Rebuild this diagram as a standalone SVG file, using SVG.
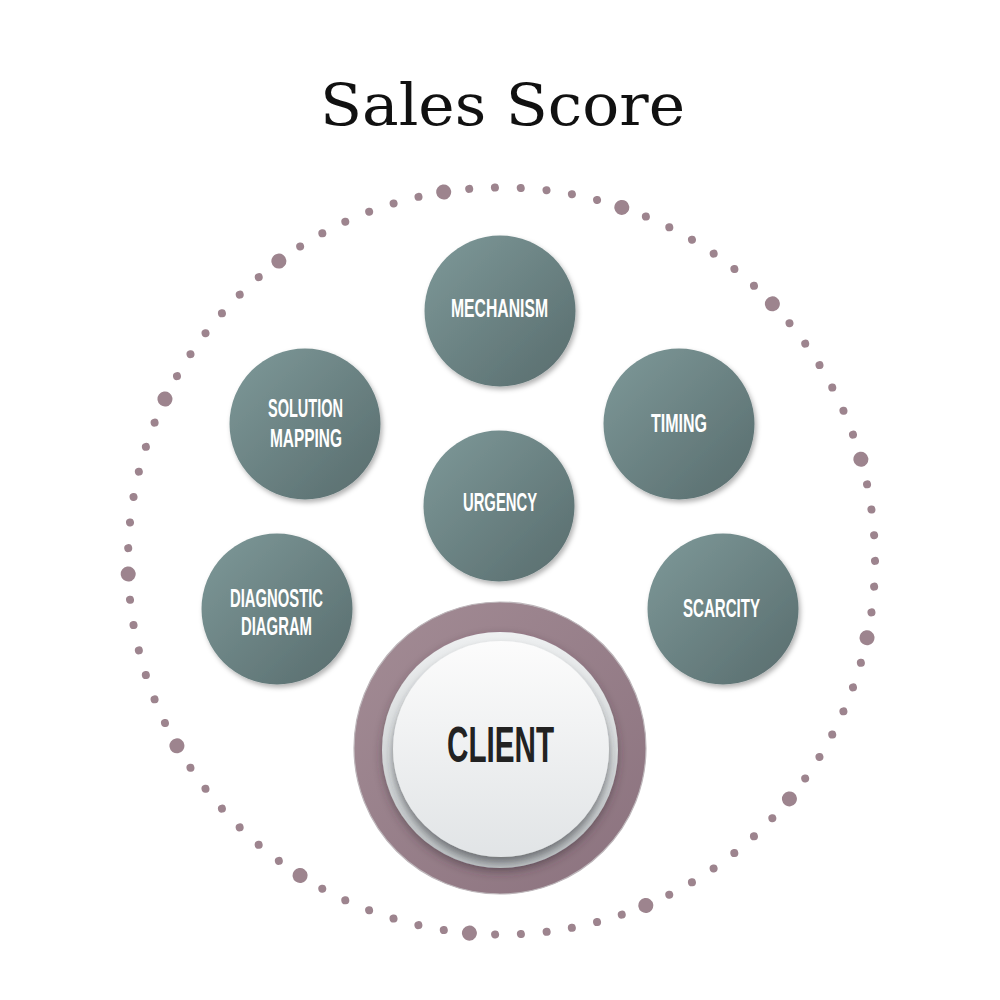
<svg xmlns="http://www.w3.org/2000/svg" width="1000" height="1000" viewBox="0 0 1000 1000">
  <defs>
    <linearGradient id="nodeGrad" x1="0" y1="0" x2="1" y2="1">
      <stop offset="0" stop-color="#7e9999"/>
      <stop offset="1" stop-color="#586c6d"/>
    </linearGradient>
    <linearGradient id="ringGrad" x1="0" y1="0" x2="1" y2="1">
      <stop offset="0" stop-color="#a38c95"/>
      <stop offset="1" stop-color="#8b727e"/>
    </linearGradient>
    <linearGradient id="baseGrad" x1="0" y1="0" x2="0" y2="1">
      <stop offset="0" stop-color="#eef0f1"/>
      <stop offset="1" stop-color="#bfc4c6"/>
    </linearGradient>
    <linearGradient id="faceGrad" x1="0" y1="0" x2="0" y2="1">
      <stop offset="0" stop-color="#fcfcfc"/>
      <stop offset="1" stop-color="#e1e4e6"/>
    </linearGradient>
    <filter id="nodeShadow" x="-20%" y="-20%" width="140%" height="140%">
      <feDropShadow dx="2" dy="3" stdDeviation="2.5" flood-color="#000" flood-opacity="0.3"/>
    </filter>
    <filter id="baseShadow" x="-20%" y="-20%" width="140%" height="140%">
      <feDropShadow dx="0" dy="4" stdDeviation="5" flood-color="#3a2a32" flood-opacity="0.45"/>
    </filter>
    <filter id="faceShadow" x="-20%" y="-20%" width="140%" height="140%">
      <feDropShadow dx="0" dy="6" stdDeviation="4" flood-color="#2d3335" flood-opacity="0.55"/>
    </filter>
  </defs>
  <style>
    .node { fill: url(#nodeGrad); filter: url(#nodeShadow); }
    .label { font-family: "Liberation Sans", "DejaVu Sans", sans-serif; font-weight: bold; font-size: 25px; fill: #ffffff; text-anchor: middle; }
    .dots { fill: none; stroke: #9d848e; stroke-linecap: round; stroke-dasharray: 0 1; }
  </style>
  <rect width="1000" height="1000" fill="#ffffff"/>

  <text x="502.5" y="125" font-family="DejaVu Serif, 'Liberation Serif', serif" font-size="58" fill="#111" text-anchor="middle" textLength="365" lengthAdjust="spacingAndGlyphs">Sales Score</text>

  <g id="dotted-ring">
    <circle class="dots" cx="501.5" cy="561" r="373.5" pathLength="91" stroke-width="8" transform="rotate(-98.9 501.5 561)"/>
    <circle class="dots" cx="501.5" cy="561" r="373.5" pathLength="13" stroke-width="15" transform="rotate(-98.9 501.5 561)"/>
  </g>

  <g id="node-mechanism">
    <circle class="node" cx="500" cy="311" r="75.5"/>
    <text class="label" x="499.5" y="317" textLength="97" lengthAdjust="spacingAndGlyphs">MECHANISM</text>
  </g>
  <g id="node-solution-mapping">
    <circle class="node" cx="305" cy="424" r="75.5"/>
    <text class="label" x="305.5" y="417" textLength="75" lengthAdjust="spacingAndGlyphs">SOLUTION</text>
    <text class="label" x="306" y="447" textLength="72" lengthAdjust="spacingAndGlyphs">MAPPING</text>
  </g>
  <g id="node-timing">
    <circle class="node" cx="679" cy="424" r="75.5"/>
    <text class="label" x="679" y="432" textLength="56" lengthAdjust="spacingAndGlyphs">TIMING</text>
  </g>
  <g id="node-urgency">
    <circle class="node" cx="499" cy="506" r="75.5"/>
    <text class="label" x="500" y="511" textLength="74" lengthAdjust="spacingAndGlyphs">URGENCY</text>
  </g>
  <g id="node-diagnostic-diagram">
    <circle class="node" cx="277" cy="609" r="75.5"/>
    <text class="label" x="276.5" y="607" textLength="93" lengthAdjust="spacingAndGlyphs">DIAGNOSTIC</text>
    <text class="label" x="276.5" y="635" textLength="71" lengthAdjust="spacingAndGlyphs">DIAGRAM</text>
  </g>
  <g id="node-scarcity">
    <circle class="node" cx="723" cy="609" r="75.5"/>
    <text class="label" x="721.5" y="617" textLength="77" lengthAdjust="spacingAndGlyphs">SCARCITY</text>
  </g>

  <g id="node-client">
    <circle cx="500" cy="748" r="146" fill="url(#ringGrad)" stroke="#bdb6ba" stroke-width="1.2"/>
    <circle cx="500" cy="750" r="118" fill="url(#baseGrad)" filter="url(#baseShadow)"/>
    <circle cx="501" cy="749" r="108" fill="url(#faceGrad)" filter="url(#faceShadow)"/>
    <text x="500.5" y="762" font-family="'Liberation Sans', 'DejaVu Sans', sans-serif" font-weight="bold" font-size="50" fill="#222222" text-anchor="middle" textLength="107" lengthAdjust="spacingAndGlyphs">CLIENT</text>
  </g>
</svg>
